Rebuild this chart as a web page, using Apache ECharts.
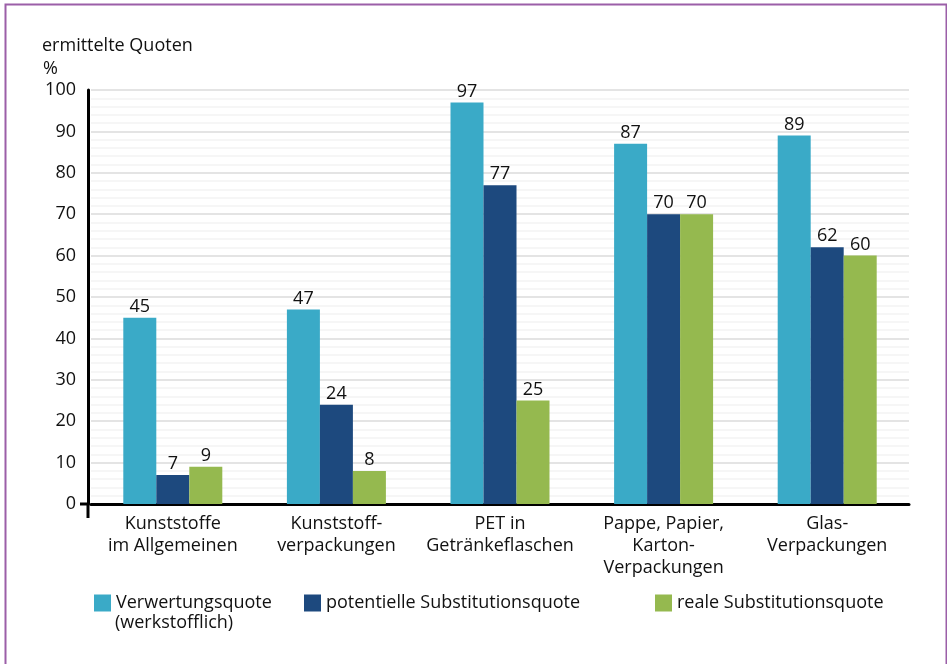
<!DOCTYPE html>
<html><head><meta charset="utf-8">
<script src="https://cdn.jsdelivr.net/npm/echarts@6/dist/echarts.min.js"></script>
<style>html,body{margin:0;padding:0;background:#fff}#c{width:947px;height:664px}</style>
</head><body><div id="c"></div>
<script>
const categories = ["Kunststoffe\nim Allgemeinen", "Kunststoff-\nverpackungen", "PET in\nGetränkeflaschen", "Pappe, Papier,\nKarton-\nVerpackungen", "Glas-\nVerpackungen"];
const verwertung = [45, 47, 97, 87, 89];
const potentiell = [7, 24, 77, 70, 62];
const real = [9, 8, 25, 70, 60];
const seriesNames = ["Verwertungsquote (werkstofflich)", "potentielle Substitutionsquote", "reale Substitutionsquote"];
const yTicks = [0, 10, 20, 30, 40, 50, 60, 70, 80, 90, 100];
const colors = ["#3AAAC7", "#1D497E", "#95B94F"];
const FONT = "'Open Sans', 'Noto Sans', sans-serif";
const FS = 18;

const chart = echarts.init(document.getElementById('c'));
const mk = (name, data, color) => ({
  name, type: 'bar', data, barWidth: 33, barGap: '0%',
  itemStyle: { color },
  label: { show: true, position: 'top', distance: 2, color: '#111', fontSize: FS, fontFamily: FONT }
});
const legendBase = {
  orient: 'horizontal', top: 587, itemWidth: 17, itemHeight: 17, icon: 'rect',
  textStyle: { fontSize: FS, fontFamily: FONT, color: '#111', lineHeight: 22, padding: [0, 0, 0, 0] },
  selectedMode: false
};
chart.setOption({
  animation: false,
  backgroundColor: '#fff',
  textStyle: { fontFamily: FONT },
  grid: { left: 91, right: 38, top: 90, bottom: 160, containLabel: false },
  legend: [
    Object.assign({}, legendBase, { left: 89, data: [seriesNames[0]], formatter: () => 'Verwertungsquote' }),
    Object.assign({}, legendBase, { left: 299, data: [seriesNames[1]] }),
    Object.assign({}, legendBase, { left: 650, data: [seriesNames[2]] })
  ],
  xAxis: {
    type: 'category', data: categories,
    axisLine: { lineStyle: { color: '#000', width: 3 } },
    axisTick: { show: false },
    axisLabel: { fontSize: FS, fontFamily: FONT, color: '#111', lineHeight: 22, margin: 9, interval: 0 }
  },
  yAxis: {
    type: 'value', min: yTicks[0], max: yTicks[yTicks.length - 1], interval: 10, offset: 3,
    axisLine: { show: true, lineStyle: { color: '#000', width: 3 } },
    axisTick: { show: false },
    axisLabel: { fontSize: FS, fontFamily: FONT, color: '#111', margin: 12 },
    splitLine: { lineStyle: { color: '#e4e4e4', width: 2 } },
    minorTick: { show: false, splitNumber: 5 },
    minorSplitLine: { show: true, lineStyle: { color: '#f6f6f6', width: 2 } }
  },
  series: [
    mk(seriesNames[0], verwertung, colors[0]),
    mk(seriesNames[1], potentiell, colors[1]),
    mk(seriesNames[2], real, colors[2])
  ],
  graphic: [
    { type: 'rect', left: 3, top: 2, shape: { width: 941, height: 700 }, style: { fill: 'none', stroke: '#9B5FA8', lineWidth: 2 }, silent: true },
    { type: 'text', left: 42, top: 37, style: { text: 'ermittelte Quoten', fontSize: FS, fontFamily: FONT, fill: '#111' } },
    { type: 'text', left: 43, top: 60, style: { text: '%', fontSize: FS, fontFamily: FONT, fill: '#111' } },
    { type: 'text', left: 115, top: 614, style: { text: '(werkstofflich)', fontSize: FS, fontFamily: FONT, fill: '#111' } },
    { type: 'line', shape: { x1: 88, y1: 504, x2: 88, y2: 518 }, style: { stroke: '#000', lineWidth: 3 } },
    { type: 'line', shape: { x1: 80, y1: 504, x2: 88, y2: 504 }, style: { stroke: '#000', lineWidth: 3 } }
  ]
});
</script></body></html>
